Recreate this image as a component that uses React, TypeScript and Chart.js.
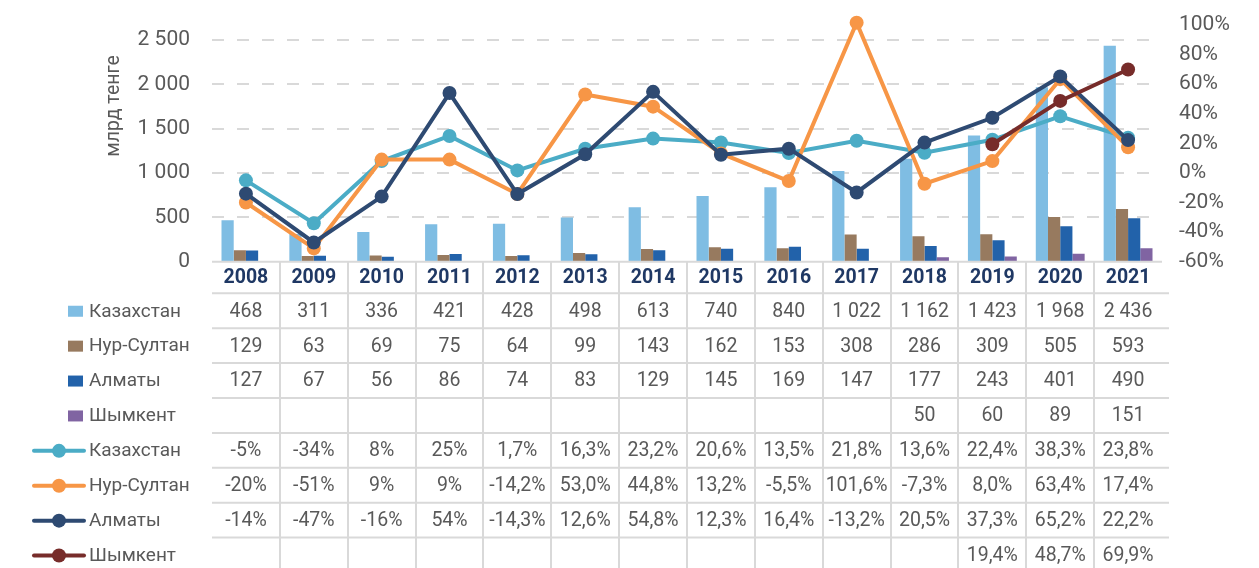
import { useEffect, useRef } from "react";
import { Chart, registerables } from "chart.js";

Chart.register(...registerables);

// ---------- data ----------
const years = ["2008", "2009", "2010", "2011", "2012", "2013", "2014", "2015", "2016", "2017", "2018", "2019", "2020", "2021"];
const regionNames = ["Казахстан", "Нур-Султан", "Алматы", "Шымкент"];

const volKazakhstan = [468, 311, 336, 421, 428, 498, 613, 740, 840, 1022, 1162, 1423, 1968, 2436];
const volNurSultan = [129, 63, 69, 75, 64, 99, 143, 162, 153, 308, 286, 309, 505, 593];
const volAlmaty = [127, 67, 56, 86, 74, 83, 129, 145, 169, 147, 177, 243, 401, 490];
const volShymkent = [null, null, null, null, null, null, null, null, null, null, 50, 60, 89, 151];

const grKazakhstan = [-5, -34, 8, 25, 1.7, 16.3, 23.2, 20.6, 13.5, 21.8, 13.6, 22.4, 38.3, 23.8];
const grNurSultan = [-20, -51, 9, 9, -14.2, 53.0, 44.8, 13.2, -5.5, 101.6, -7.3, 8.0, 63.4, 17.4];
const grAlmaty = [-14, -47, -16, 54, -14.3, 12.6, 54.8, 12.3, 16.4, -13.2, 20.5, 37.3, 65.2, 22.2];
const grShymkent = [null, null, null, null, null, null, null, null, null, null, null, 19.4, 48.7, 69.9];
const pctDecimals = [0, 0, 0, 0, 1, 1, 1, 1, 1, 1, 1, 1, 1, 1];

const leftTicks = [0, 500, 1000, 1500, 2000, 2500];
const rightMin = -60;
const rightMax = 100;
const rightStep = 20;
const yTitle = "млрд тенге";

// ---------- styles ----------
const barColors = ["#7FBDE3", "#977A5F", "#2262AA", "#8064A2"];
const lineColors = ["#4BACC6", "#F79646", "#2E4A72", "#772C2A"];
const FONT = "Roboto, 'Noto Sans', sans-serif";
const GREY = "#595959";
const NAVY = "#1F3864";
const GRID = "#D9D9D9";

const fmtNum = (v: number | null) =>
  v === null ? "" : String(v).replace(/\B(?=(\d{3})+(?!\d))/g, " ");
const fmtPct = (v: number | null, d: number) =>
  v === null ? "" : v.toFixed(d).replace(".", ",") + "%";

const W = 1243;
const H = 560;

const tablePlugin = {
  id: "dataTable",
  afterDraw(chart: any) {
    const ctx = chart.ctx as CanvasRenderingContext2D;
    const xs = chart.scales.x;
    const area = chart.chartArea;
    const n = years.length;
    const colW = (xs.right - xs.left) / n;
    const top = area.bottom;
    const headerH = 31.6;
    const rowH = 34.9;
    const rows: { kind: "bar" | "line"; idx: number; cells: string[] }[] = [
      { kind: "bar", idx: 0, cells: volKazakhstan.map(fmtNum) },
      { kind: "bar", idx: 1, cells: volNurSultan.map(fmtNum) },
      { kind: "bar", idx: 2, cells: volAlmaty.map(fmtNum) },
      { kind: "bar", idx: 3, cells: volShymkent.map(fmtNum) },
      { kind: "line", idx: 0, cells: grKazakhstan.map((v, i) => fmtPct(v, pctDecimals[i])) },
      { kind: "line", idx: 1, cells: grNurSultan.map((v, i) => fmtPct(v, pctDecimals[i])) },
      { kind: "line", idx: 2, cells: grAlmaty.map((v, i) => fmtPct(v, pctDecimals[i])) },
      { kind: "line", idx: 3, cells: grShymkent.map((v, i) => fmtPct(v, pctDecimals[i])) },
    ];

    ctx.save();
    // y-axis title
    ctx.save();
    ctx.translate(106, 98);
    ctx.rotate(-Math.PI / 2);
    ctx.fillStyle = GREY;
    ctx.font = `19.5px ${FONT}`;
    ctx.textAlign = "center";
    ctx.textBaseline = "middle";
    ctx.fillText(yTitle, 0, 0);
    ctx.restore();

    // grid lines
    ctx.strokeStyle = GRID;
    ctx.lineWidth = 2;
    ctx.beginPath();
    ctx.moveTo(xs.left, top);
    ctx.lineTo(xs.right, top);
    for (let r = 0; r < rows.length; r++) {
      const y = top + headerH + r * rowH;
      ctx.moveTo(xs.left, y);
      ctx.lineTo(xs.right + 7, y);
    }
    for (let i = 1; i < n; i++) {
      const x = Math.round(xs.left + i * colW);
      ctx.moveTo(x, top);
      ctx.lineTo(x, H + 10);
    }
    ctx.stroke();

    // header
    ctx.textAlign = "center";
    ctx.textBaseline = "middle";
    ctx.font = `bold 19.5px ${FONT}`;
    ctx.fillStyle = NAVY;
    years.forEach((yr, i) => {
      ctx.fillText(yr, xs.getPixelForValue(i), top + headerH / 2 + 1);
    });

    // rows
    rows.forEach((row, r) => {
      const cy = top + headerH + r * rowH + rowH / 2 + 1;
      ctx.font = `19.5px ${FONT}`;
      ctx.fillStyle = GREY;
      ctx.textAlign = "center";
      row.cells.forEach((c, i) => {
        if (c) ctx.fillText(c, xs.getPixelForValue(i), cy);
      });
      // legend key
      if (row.kind === "bar") {
        ctx.fillStyle = barColors[row.idx];
        ctx.fillRect(60, cy - 6, 15, 11);
      } else {
        ctx.strokeStyle = lineColors[row.idx];
        ctx.lineWidth = 4;
        ctx.lineCap = "round";
        ctx.beginPath();
        ctx.moveTo(26, cy - 0.5);
        ctx.lineTo(76, cy - 0.5);
        ctx.stroke();
        ctx.fillStyle = lineColors[row.idx];
        ctx.beginPath();
        ctx.arc(51, cy - 0.5, 7, 0, Math.PI * 2);
        ctx.fill();
      }
      ctx.fillStyle = GREY;
      ctx.textAlign = "left";
      ctx.font = `19px ${FONT}`;
      ctx.fillText(regionNames[row.idx], 81, cy);
    });
    ctx.restore();
  },
};

export default function App() {
  const ref = useRef<HTMLCanvasElement | null>(null);
  useEffect(() => {
    if (!ref.current) return;
    const barSets = [volKazakhstan, volNurSultan, volAlmaty, volShymkent].map((d, i) => ({
      type: "bar" as const,
      label: regionNames[i],
      data: d,
      backgroundColor: barColors[i],
      yAxisID: "y",
      order: 10,
      categoryPercentage: 0.72,
      barPercentage: 1,
    }));
    const lineSets = [grKazakhstan, grNurSultan, grAlmaty, grShymkent].map((d, i) => ({
      type: "line" as const,
      label: regionNames[i],
      data: d,
      borderColor: lineColors[i],
      backgroundColor: lineColors[i],
      pointBackgroundColor: lineColors[i],
      pointBorderColor: lineColors[i],
      borderWidth: 4,
      pointRadius: 7,
      pointBorderWidth: 0,
      yAxisID: "y1",
      order: 3 - i,
      clip: false,
      tension: 0,
    }));
    const chart = new Chart(ref.current, {
      type: "bar",
      data: { labels: years, datasets: [...barSets, ...lineSets] as any },
      options: {
        responsive: false,
        animation: false,
        devicePixelRatio: 1,
        layout: { padding: { top: 17, bottom: 306.3, left: 0, right: 0 } },
        plugins: { legend: { display: false }, tooltip: { enabled: false } },
        scales: {
          x: { display: false },
          y: {
            position: "left",
            min: 0,
            max: 2669,
            afterBuildTicks: (s: any) => {
              s.ticks = leftTicks.map((v) => ({ value: v }));
            },
            afterFit: (s: any) => {
              s.width = 204;
            },
            border: { display: false },
            grid: { display: false, drawTicks: true, tickLength: 22 },
            ticks: {
              padding: 0,
              autoSkip: false,
              color: GREY,
              font: { family: FONT, size: 21 },
              callback: (v: any) => fmtNum(Number(v)),
            },
          },
          y1: {
            position: "right",
            min: rightMin,
            max: rightMax,
            afterFit: (s: any) => {
              s.width = 89;
            },
            border: { display: false },
            grid: { display: false, drawTicks: true, tickLength: 17 },
            ticks: {
              stepSize: rightStep,
              autoSkip: false,
              padding: 0,
              color: GREY,
              font: { family: FONT, size: 21 },
              callback: (v: any) => `${v}%`,
            },
          },
        },
      },
      plugins: [
        tablePlugin,
        {
          id: "dashGrid",
          beforeDatasetsDraw(chart: any) {
            const s = chart.scales.y;
            const ctx = chart.ctx;
            const a = chart.chartArea;
            ctx.save();
            ctx.strokeStyle = GRID;
            ctx.lineWidth = 2;
            ctx.setLineDash([12, 13]);
            leftTicks.forEach((v) => {
              if (v === 0) return;
              const y = Math.round(s.getPixelForValue(v));
              ctx.beginPath();
              ctx.moveTo(a.left, y);
              ctx.lineTo(a.right, y);
              ctx.stroke();
            });
            ctx.restore();
          },
        },
      ],
    });
    return () => chart.destroy();
  }, []);
  return (
    <div style={{ width: W, height: H }}>
      <canvas ref={ref} width={W} height={H} style={{ width: W, height: H, display: "block" }} />
    </div>
  );
}
